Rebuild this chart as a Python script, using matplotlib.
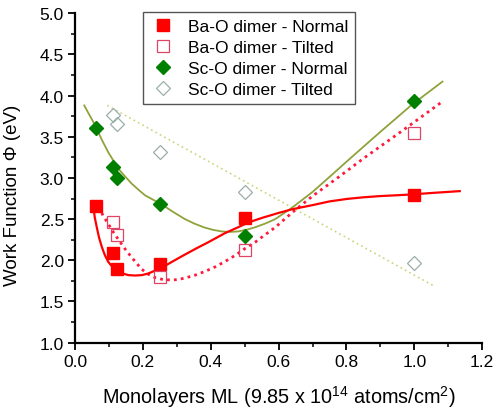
import matplotlib
matplotlib.use("Agg")
import matplotlib.pyplot as plt
from matplotlib.ticker import MultipleLocator

plt.rcParams['font.family'] = ['Liberation Sans', 'DejaVu Sans']
plt.rcParams['mathtext.fontset'] = 'custom'
plt.rcParams['mathtext.rm'] = 'Liberation Sans'
plt.rcParams['mathtext.it'] = 'Liberation Sans:italic'

# measured points (coverage in ML, work function in eV)
ba_normal_x = [0.0625, 0.111, 0.125, 0.25, 0.5, 1.0]
ba_normal_y = [2.66, 2.09, 1.89, 1.96, 2.51, 2.79]
ba_tilted_x = [0.111, 0.125, 0.25, 0.5, 1.0]
ba_tilted_y = [2.46, 2.31, 1.80, 2.13, 3.55]
sc_normal_x = [0.0625, 0.111, 0.125, 0.25, 0.5, 1.0]
sc_normal_y = [3.61, 3.13, 3.00, 2.68, 2.30, 3.93]
sc_tilted_x = [0.111, 0.125, 0.25, 0.5, 1.0]
sc_tilted_y = [3.77, 3.65, 3.31, 2.83, 1.97]

# fitted curves
ba_normal_fit_x = [0.054, 0.058, 0.064, 0.071, 0.079, 0.088, 0.098, 0.11, 0.123, 0.14,
                   0.157, 0.177, 0.197, 0.216, 0.236, 0.26, 0.285, 0.324, 0.36, 0.393,
                   0.442, 0.48, 0.511, 0.555, 0.60, 0.64, 0.70, 0.75, 0.801, 0.85,
                   0.90, 0.95, 0.993, 1.06, 1.134]
ba_normal_fit_y = [2.65, 2.52, 2.40, 2.27, 2.16, 2.06, 1.98, 1.92, 1.875, 1.84,
                   1.82, 1.815, 1.82, 1.84, 1.875, 1.92, 1.98, 2.07, 2.15, 2.22,
                   2.33, 2.40, 2.46, 2.52, 2.575, 2.62, 2.67, 2.715, 2.745, 2.765,
                   2.78, 2.79, 2.80, 2.82, 2.84]
ba_tilted_fit_x = [0.069, 0.083, 0.098, 0.113, 0.128, 0.145, 0.162, 0.18, 0.197, 0.216,
                   0.236, 0.26, 0.29, 0.32, 0.354, 0.383, 0.413, 0.442, 0.472, 0.50,
                   0.531, 0.56, 0.59, 0.64, 0.70, 0.78, 0.851, 0.95, 1.077]
ba_tilted_fit_y = [2.65, 2.54, 2.44, 2.34, 2.25, 2.15, 2.06, 1.97, 1.89, 1.83,
                   1.79, 1.765, 1.76, 1.78, 1.82, 1.865, 1.92, 1.985, 2.06, 2.14,
                   2.22, 2.31, 2.40, 2.58, 2.78, 3.02, 3.24, 3.53, 3.91]
sc_normal_fit_x = [0.027, 0.043, 0.059, 0.078, 0.098, 0.113, 0.128, 0.147, 0.167, 0.186,
                   0.206, 0.228, 0.251, 0.288, 0.324, 0.352, 0.38, 0.406, 0.433, 0.457,
                   0.48, 0.505, 0.53, 0.56, 0.59, 0.64, 0.70, 0.752, 0.82, 0.90,
                   0.993, 1.083]
sc_normal_fit_y = [3.88, 3.76, 3.64, 3.47, 3.31, 3.21, 3.11, 3.02, 2.93, 2.86,
                   2.79, 2.74, 2.69, 2.59, 2.50, 2.445, 2.40, 2.37, 2.35, 2.345,
                   2.35, 2.37, 2.40, 2.445, 2.50, 2.64, 2.83, 3.02, 3.27, 3.56,
                   3.89, 4.17]
sc_tilted_fit_x = [0.095, 1.057]
sc_tilted_fit_y = [3.88, 1.69]

fig = plt.figure(figsize=(4.94, 4.14), dpi=100)
ax = fig.add_axes([0.152, 0.17, 0.824, 0.7955])

# fit lines
ax.plot(sc_tilted_fit_x, sc_tilted_fit_y, color='#c8d67a', lw=1.2, ls=(0, (1, 2)))
ax.plot(sc_normal_fit_x, sc_normal_fit_y, color='#8ea33a', lw=1.3)
ax.plot(ba_tilted_fit_x, ba_tilted_fit_y, color='#ff1a3c', lw=2, ls=(0, (1, 1.5)))
ax.plot(ba_normal_fit_x, ba_normal_fit_y, color='#ff0000', lw=1.6)

# data markers
h1, = ax.plot(ba_normal_x, ba_normal_y, ls='none', marker='s', ms=8,
              mfc='#ff0000', mec='#ff0000', label='Ba-O dimer - Normal')
h2, = ax.plot(ba_tilted_x, ba_tilted_y, ls='none', marker='s', ms=8,
              mfc='none', mec='#dd4466', mew=0.9, label='Ba-O dimer - Tilted')
h3, = ax.plot(sc_normal_x, sc_normal_y, ls='none', marker='D', ms=7.5,
              mfc='#008000', mec='#008000', label='Sc-O dimer - Normal')
h4, = ax.plot(sc_tilted_x, sc_tilted_y, ls='none', marker='D', ms=7.5,
              mfc='none', mec='#9aaeaa', mew=0.9, label='Sc-O dimer - Tilted')

ax.set_xlim(0, 1.2)
ax.set_ylim(1.0, 5.0)
ax.xaxis.set_major_locator(MultipleLocator(0.2))
ax.xaxis.set_minor_locator(MultipleLocator(0.1))
ax.yaxis.set_major_locator(MultipleLocator(0.5))
ax.yaxis.set_minor_locator(MultipleLocator(0.25))
ax.xaxis.set_major_formatter(plt.FormatStrFormatter('%.1f'))
ax.yaxis.set_major_formatter(plt.FormatStrFormatter('%.1f'))

for side in ['top', 'right']:
    ax.spines[side].set_visible(False)
for side in ['left', 'bottom']:
    ax.spines[side].set_linewidth(1.6)
ax.tick_params(which='major', direction='out', length=5, width=1.3, labelsize=12.5, pad=3)
ax.tick_params(which='minor', direction='out', length=3, width=1.1)

ax.set_xlabel('Monolayers ML (9.85 x 10$^{14}$ atoms/cm$^{2}$)', fontsize=14.3, labelpad=10)
ax.set_ylabel('Work Function \u03a6 (eV)', fontsize=13.5)
ax.yaxis.set_label_coords(-0.133, 0.45)

leg = ax.legend(handles=[h1, h2, h3, h4], loc='upper left',
                bbox_to_anchor=(143 / 494, 1 - 13 / 414), bbox_transform=fig.transFigure,
                borderaxespad=0, fancybox=False, framealpha=1, edgecolor='#555555',
                fontsize=12.5, handletextpad=0.7, labelspacing=0.33, borderpad=0.4,
                handlelength=1.5)
leg.get_frame().set_linewidth(1.0)

fig.savefig('out.png', dpi=100)
